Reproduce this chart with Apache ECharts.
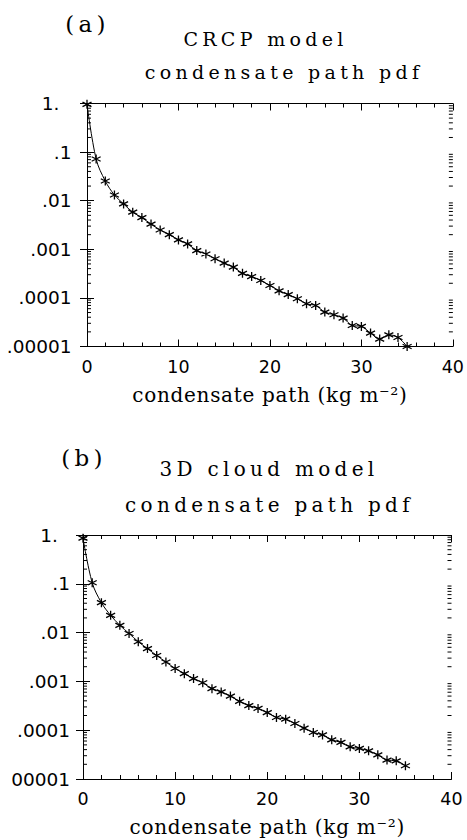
<!DOCTYPE html>
<html><head><meta charset="utf-8">
<script src="https://cdn.jsdelivr.net/npm/echarts@6/dist/echarts.min.js"></script>
<style>html,body{margin:0;padding:0;background:#fff}#c{width:467px;height:840px}</style>
</head><body><div id="c"></div><script>
// ---- data ----
const pathX = [0,1,2,3,4,5,6,7,8,9,10,11,12,13,14,15,16,17,18,19,20,21,22,23,24,25,26,27,28,29,30,31,32,33,34,35];
const pdfCRCP = [0.96,0.072,0.0254,0.0131,0.0086,0.0058,0.0045,0.0033,0.0025,0.0020,
  0.00156,0.00129,0.00094,0.00080,0.00064,0.00052,0.00043,0.00032,0.000275,0.000228,
  0.000180,0.000140,0.000117,0.0000959,0.0000757,0.0000698,0.0000511,0.0000450,0.0000385,0.0000271,
  0.0000259,0.0000189,0.0000142,0.0000174,0.0000153,0.00001];
const pdf3D = [0.86,0.105,0.041,0.0226,0.0141,0.0096,0.0065,0.0047,0.0034,0.0025,
  0.00184,0.00144,0.00114,0.00094,0.00071,0.00061,0.00050,0.00039,0.00032,0.00028,
  0.00023,0.000182,0.000168,0.000137,0.00011,0.0000897,0.0000802,0.0000634,0.0000561,0.0000456,
  0.0000423,0.0000378,0.0000313,0.0000244,0.0000236,0.0000187];
const xTickLabels = ['0','10','20','30','40'];
const yTickLabelsA = ['.00001','.0001','.001','.01','.1','1.'];
const yTickLabelsB = ['00001','.0001','.001','.01','.1','1.'];
const minorMult = [2,3,4,5,6,7,8,9];
const decades = [-5,-4,-3,-2,-1];
const panelTag = ['(a)','(b)'];
const panelTitle1 = ['CRCP model','3D cloud model'];
const panelTitle2 = ['condensate path pdf','condensate path pdf'];
const xName = 'condensate path (kg m\u207B\u00B2)';

// ---- chart ----
const SANS = '"DejaVu Sans", sans-serif';
const SERIF = '"DejaVu Serif", serif';
const minorVals = [];
decades.forEach(d => minorMult.forEach(m => minorVals.push([0, m * Math.pow(10, d)])));
const ASTER = 'path://M5,0L5,10M0.67,2.5L9.33,7.5M0.67,7.5L9.33,2.5';

const grids = [
  {left: 87, top: 103.5, width: 367.5, height: 243},
  {left: 83, top: 535, width: 368.5, height: 244}
];
const xAxes = [], yAxes = [], series = [];
[0,1].forEach(g => {
  const ylabels = g === 0 ? yTickLabelsA : yTickLabelsB;
  const xBase = {
    type: 'value', gridIndex: g, min: 0, max: 40, interval: 10,
    axisLine: {show: true, lineStyle: {color: '#000', width: 1}},
    axisTick: {show: true, inside: true, length: 7, lineStyle: {color: '#000'}},
    minorTick: {show: true, splitNumber: 5, length: 4, lineStyle: {color: '#000'}},
    splitLine: {show: false}, minorSplitLine: {show: false}
  };
  xAxes.push(Object.assign({}, xBase, {
    position: 'bottom',
    axisLabel: {show: true, margin: 11, color: '#000', fontFamily: SANS, fontSize: 17.5,
      formatter: v => xTickLabels[Math.round(v / 10)]},
    name: xName, nameLocation: 'middle', nameGap: 38,
    nameTextStyle: {color: '#000', fontFamily: SERIF, fontSize: 20}
  }));
  xAxes.push(Object.assign({}, xBase, {position: 'top', axisLabel: {show: false}}));
  const yBase = {
    type: 'log', logBase: 10, gridIndex: g, min: 0.00001, max: 1,
    axisLine: {show: true, lineStyle: {color: '#000', width: 1}},
    axisTick: {show: true, inside: true, length: 7, lineStyle: {color: '#000'}},
    minorTick: {show: false},
    splitLine: {show: false}
  };
  yAxes.push(Object.assign({}, yBase, {
    position: 'left',
    axisLabel: {show: true, margin: g === 0 ? 15.5 : 13, color: '#000', fontFamily: SANS, fontSize: 18.5,
      formatter: v => {
        const i = Math.round(Math.log10(v)) + 5;
        return i === 5 ? '{one|' + ylabels[i] + '}' : ylabels[i];
      },
      rich: {one: {fontFamily: SANS, fontSize: 18.5, color: '#000', padding: [0, 12, 0, 0]}}}
  }));
  yAxes.push(Object.assign({}, yBase, {position: 'right', axisLabel: {show: false}}));

  series.push({
    type: 'custom', xAxisIndex: g * 2, yAxisIndex: g * 2, silent: true, clip: false,
    data: minorVals, encode: {x: 0, y: 1},
    renderItem: (params, api) => {
      const v = api.value(1);
      const pL = api.coord([0, v]);
      const pR = api.coord([40, v]);
      return {type: 'group', children: [
        {type: 'line', shape: {x1: pL[0], y1: pL[1], x2: pL[0] + 4, y2: pL[1]}, style: {stroke: '#000', lineWidth: 1}},
        {type: 'line', shape: {x1: pR[0] - 4, y1: pR[1], x2: pR[0], y2: pR[1]}, style: {stroke: '#000', lineWidth: 1}}
      ]};
    }
  });
  const ys = g === 0 ? pdfCRCP : pdf3D;
  series.push({
    type: 'line', xAxisIndex: g * 2, yAxisIndex: g * 2, clip: false,
    data: pathX.map((x, i) => [x, ys[i]]),
    smooth: 0.35,
    lineStyle: {color: '#000', width: 1},
    symbol: ASTER, symbolSize: 9, showAllSymbol: true,
    itemStyle: {color: '#000', borderColor: '#000', borderWidth: 1.3},
    z: 5
  });
});

function txt(s, x, y, size) {
  return {type: 'text', x: x, y: y, silent: true,
    style: {text: s, font: size + 'px ' + SERIF, fill: '#000',
      align: 'center', verticalAlign: 'middle', textAlign: 'center', textVerticalAlign: 'middle'}};
}
const graphic = [
  txt(panelTag[0], 87.5, 23.5, 23),
  txt(panelTitle1[0], 265.5, 38.5, 19),
  txt(panelTitle2[0], 284, 71.5, 19),
  txt(panelTag[1], 84, 458, 23),
  txt(panelTitle1[1], 269, 468.5, 20),
  txt(panelTitle2[1], 269.5, 504.5, 20)
];

const chart = echarts.init(document.getElementById('c'), null, {renderer: 'svg'});
chart.setOption({
  animation: false,
  backgroundColor: '#fff',
  grid: grids,
  xAxis: xAxes,
  yAxis: yAxes,
  series: series,
  graphic: graphic
});

// the reference's serif lettering is widely tracked
const tracked = new Set(panelTag.concat(panelTitle1, panelTitle2));
function applyTracking() {
  document.querySelectorAll('#c text').forEach(t => {
    const s = t.textContent;
    if (tracked.has(s)) t.style.letterSpacing = '4.3px';
    else if (s === xName) t.style.letterSpacing = '0.7px';
  });
}
applyTracking();
chart.on('finished', applyTracking);
</script></body></html>
